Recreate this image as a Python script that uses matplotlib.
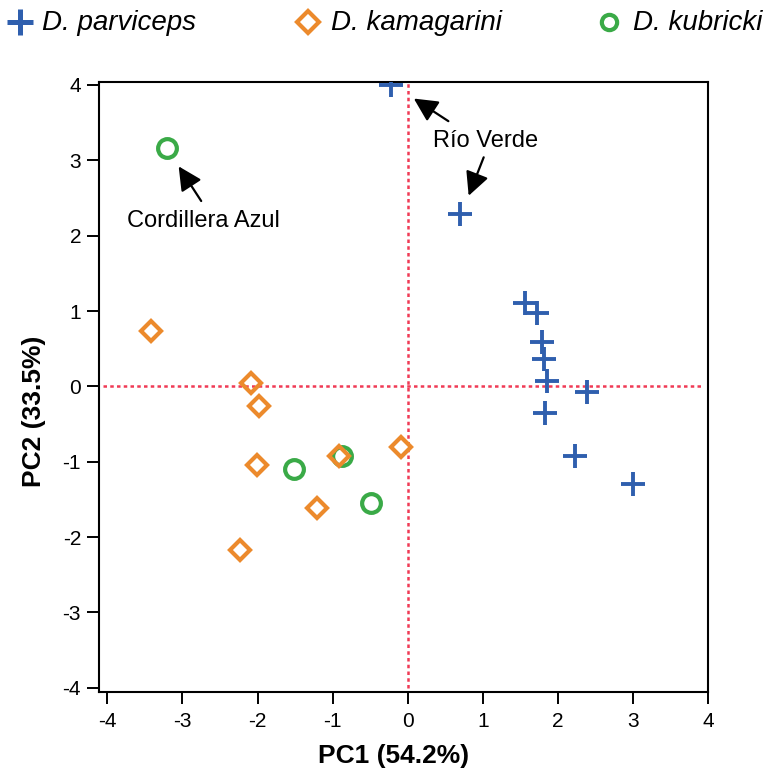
import matplotlib
matplotlib.use("Agg")
import matplotlib.pyplot as plt
from matplotlib.lines import Line2D

plt.rcParams['font.family'] = ['Liberation Sans', 'DejaVu Sans']
plt.rcParams['axes.unicode_minus'] = False

# PCA scores per species
parviceps_pc1 = [-0.22, 0.70, 1.56, 1.72, 1.78, 1.81, 1.85, 2.39, 1.83, 2.23, 3.00]
parviceps_pc2 = [4.00, 2.29, 1.10, 0.97, 0.59, 0.36, 0.07, -0.07, -0.36, -0.92, -1.30]

kamagarini_pc1 = [-3.42, -2.09, -1.98, -2.01, -0.91, -0.09, -1.21, -2.23]
kamagarini_pc2 = [0.73, 0.05, -0.26, -1.05, -0.92, -0.81, -1.61, -2.17]

kubricki_pc1 = [-3.20, -1.51, -0.87, -0.49]
kubricki_pc2 = [3.16, -1.10, -0.92, -1.55]

species = ['D. parviceps', 'D. kamagarini', 'D. kubricki']
ticks = [-4, -3, -2, -1, 0, 1, 2, 3, 4]

blue = '#2f5fae'
orange = '#ec8a2c'
green = '#3aaa47'
red = '#f03a55'

fig = plt.figure(figsize=(7.7, 7.72), dpi=100)
ax = fig.add_axes([0.1286, 0.104, 0.7913, 0.7902])

# origin reference lines
ax.axhline(0, xmin=0.007, xmax=0.99, color=red, lw=1.8, ls=(0, (1.4, 1.3)), zorder=1)
ax.axvline(0, ymin=0.006, ymax=1.0, color=red, lw=1.8, ls=(0, (1.4, 1.3)), zorder=1)

ax.plot(kamagarini_pc1, kamagarini_pc2, ls='none', marker='D', ms=10.5, mfc='none',
        mec=orange, mew=3.0, zorder=3)
ax.plot(kubricki_pc1, kubricki_pc2, ls='none', marker='o', ms=13.5, mfc='none',
        mec=green, mew=3.0, zorder=2)
ax.plot(parviceps_pc1, parviceps_pc2, ls='none', marker='+', ms=17, 
        mec=blue, mew=2.8, zorder=3)

# annotations
arrow = dict(arrowstyle='-|>,head_length=0.8,head_width=0.4', mutation_scale=18,
             color='black', lw=1.6, shrinkA=0, shrinkB=0)
ax.annotate('', xy=(-3.05, 2.92), xytext=(-2.75, 2.46), arrowprops=arrow)
ax.text(-2.72, 2.19, 'Cordillera Azul', fontsize=17, ha='center', va='center')
ax.annotate('', xy=(0.08, 3.82), xytext=(0.54, 3.52), arrowprops=arrow)
ax.annotate('', xy=(0.81, 2.53), xytext=(1.01, 3.04), arrowprops=arrow)
ax.text(1.04, 3.26, 'Río Verde', fontsize=17, ha='center', va='center')

ax.set_xlim(-4.11, 4.0)
ax.set_ylim(-4.053, 4.044)
ax.set_xticks(ticks)
ax.set_yticks(ticks)
ax.tick_params(direction='out', length=8.9, width=1.4, labelsize=15)
ax.tick_params(axis='x', pad=5.5)
ax.tick_params(axis='y', pad=4)
for s in ax.spines.values():
    s.set_linewidth(1.5)

ax.set_xlabel('PC1 (54.2%)', fontsize=19, fontweight='bold')
ax.set_ylabel('PC2 (33.5%)', fontsize=19, fontweight='bold')
ax.xaxis.set_label_coords(0.484, -0.086)
ax.yaxis.set_label_coords(-0.087, 0.46)

# legend row across the top
legend_items = [
    (species[0], '+', blue, 19, 3.6, 0.026, 0.055),
    (species[1], 'D', orange, 11, 3.0, 0.400, 0.430),
    (species[2], 'o', green, 11, 3.0, 0.791, 0.822),
]
for label, m, c, ms, mew, xm, xt in legend_items:
    fc = c if m == '+' else 'none'
    fig.add_artist(Line2D([xm], [0.971], transform=fig.transFigure, marker=m, ms=ms,
                          mfc=fc, mec=c, mew=mew, ls='none'))
    fig.text(xt, 0.961, label, fontsize=20, style='italic', va='baseline', ha='left')

fig.savefig('out.png', dpi=100)
